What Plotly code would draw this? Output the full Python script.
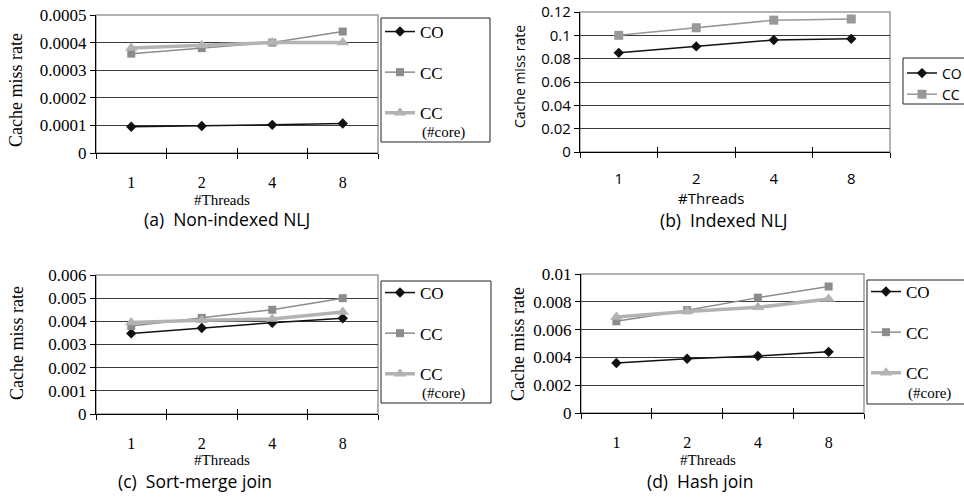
import plotly.graph_objects as go

threads = ["1", "2", "4", "8"]

a_co = [0.000095, 0.000098, 0.000102, 0.000107]
a_cc = [0.00036, 0.00038, 0.00040, 0.00044]
a_core = [0.00038, 0.00039, 0.00040, 0.00040]

b_co = [0.085, 0.0905, 0.096, 0.097]
b_cc = [0.100, 0.1065, 0.113, 0.114]

c_co = [0.00348, 0.00371, 0.00394, 0.00413]
c_cc = [0.0038, 0.00415, 0.0045, 0.0050]
c_core = [0.00395, 0.00405, 0.0041, 0.0044]

d_co = [0.0036, 0.0039, 0.0041, 0.0044]
d_cc = [0.0066, 0.0074, 0.0083, 0.0091]
d_core = [0.0069, 0.0073, 0.0076, 0.0082]

captions = ["(a)  Non-indexed NLJ", "(b)  Indexed NLJ", "(c)  Sort-merge join", "(d)  Hash join"]
core_note = "(#core)"

SERIF = "Liberation Serif"
SANS = "Open Sans"
W, H = 964, 502

CO_C = "#111111"
CC_C = "#8c8c8c"
CORE_C = "#b3b3b3"

fig = go.Figure()

def add_series(xa, ya, leg, co, cc, core, sans=False):
    fig.add_trace(go.Scatter(x=threads, y=co, name="CO", mode="lines+markers",
                             line=dict(color=CO_C, width=1.5),
                             marker=dict(symbol="diamond", size=8, color=CO_C),
                             xaxis=xa, yaxis=ya, legend=leg, legendgroup=leg + "co"))
    fig.add_trace(go.Scatter(x=threads, y=cc, name="CC", mode="lines+markers",
                             line=dict(color=CC_C if not sans else "#999999", width=1.5),
                             marker=dict(symbol="square", size=8 if not sans else 9,
                                         color=CC_C if not sans else "#999999"),
                             xaxis=xa, yaxis=ya, legend=leg, legendgroup=leg + "cc"))
    if core is not None:
        fig.add_trace(go.Scatter(x=threads, y=core, name="CC", mode="lines+markers",
                                 line=dict(color=CORE_C, width=3.5),
                                 marker=dict(symbol="triangle-up", size=11, color=CORE_C),
                                 xaxis=xa, yaxis=ya, legend=leg, legendgroup=leg + "core"))

add_series("x", "y", "legend", a_co, a_cc, a_core)
add_series("x2", "y2", "legend2", b_co, b_cc, None, sans=True)
add_series("x3", "y3", "legend3", c_co, c_cc, c_core)
add_series("x4", "y4", "legend4", d_co, d_cc, d_core)

# panel geometry (pixels): x0, x1, ytop, ybottom
panels = [
    (96, 378, 15, 153),
    (580, 890, 12, 152),
    (96, 378, 275, 414),
    (581, 864, 274, 413),
]
yranges = [(0, 0.0005, 0.0001), (0, 0.12, 0.02), (0, 0.006, 0.001), (0, 0.01, 0.002)]
fmts = [".4f", ".2f", ".3f", ".3f"]

layout = dict(width=W, height=H, margin=dict(l=0, r=0, t=0, b=0, pad=0, autoexpand=False),
              paper_bgcolor="white", plot_bgcolor="white", showlegend=True)

for i, (x0, x1, yt, yb) in enumerate(panels):
    sfx = "" if i == 0 else str(i + 1)
    osfx = str(i + 5)
    sans = (i == 1)
    fam = SANS if sans else SERIF
    tsize = 15 if sans else 17
    xsize = 15 if sans else 16
    lo, hi, dt = yranges[i]
    vals = [round(lo + k * dt, 6) for k in range(int(round((hi - lo) / dt)) + 1)]
    texts = ["0" if v == 0 else ("%g" % v if sans else format(v, fmts[i]).rstrip("0")) for v in vals]
    layout["xaxis" + sfx] = dict(
        domain=[x0 / W, x1 / W], anchor="y" + sfx, type="category",
        categoryorder="array", categoryarray=threads, range=[-0.5, 3.5],
        showline=True, linecolor="black", linewidth=1.2, showgrid=False,
        ticks="outside", tickson="boundaries", ticklen=5, tickcolor="black", tickwidth=1.2,
        ticklabelstandoff=15 if not sans else 13,
        tickfont=dict(family=fam, size=xsize, color="black"), zeroline=False)
    # overlay axis giving the inner half of the crossing category ticks
    layout["xaxis" + osfx] = dict(
        overlaying="x" + sfx, anchor="y" + sfx, type="category",
        categoryorder="array", categoryarray=threads, range=[-0.5, 3.5],
        showline=False, showgrid=False, showticklabels=False,
        ticks="inside", tickson="boundaries", ticklen=5, tickcolor="black", tickwidth=1.2,
        zeroline=False)
    layout["yaxis" + sfx] = dict(
        domain=[1 - yb / H, 1 - yt / H], anchor="x" + sfx, range=[lo, hi],
        tickvals=vals, ticktext=texts,
        showline=True, linecolor="black", linewidth=1.2,
        showgrid=True, gridcolor="#3a3a3a", gridwidth=1,
        ticks="outside", ticklen=5, tickcolor="black", tickwidth=1.2,
        tickfont=dict(family=fam, size=tsize, color="black"), zeroline=False)

# invisible helper traces that make the overlay tick axes render
for i in range(4):
    sfx = "" if i == 0 else str(i + 1)
    fig.add_trace(go.Scatter(x=threads, y=[None] * 4, mode="lines", showlegend=False,
                             hoverinfo="skip", xaxis="x" + str(i + 5), yaxis="y" + sfx))

# legends (frames drawn as shapes below)
leg_common = dict(bgcolor="rgba(0,0,0,0)", borderwidth=0,
                  xanchor="left", yanchor="top", valign="middle",
                  traceorder="grouped", itemwidth=30)
layout["legend"] = dict(leg_common, x=380 / W, y=1 - 14 / H, tracegroupgap=15.5,
                        font=dict(family=SERIF, size=17, color="black"))
layout["legend2"] = dict(leg_common, x=902 / W, y=1 - 57.5 / H, tracegroupgap=0,
                         font=dict(family=SANS, size=14, color="black"))
layout["legend3"] = dict(leg_common, x=380 / W, y=1 - 275 / H, tracegroupgap=15.5,
                         font=dict(family=SERIF, size=17, color="black"))
layout["legend4"] = dict(leg_common, x=866 / W, y=1 - 274 / H, tracegroupgap=15.5,
                         font=dict(family=SERIF, size=17, color="black"))

fig.update_layout(**layout)

shapes = []
# plot-area frame (gray, top/right visible)
for i in range(4):
    sfx = "" if i == 0 else str(i + 1)
    shapes.append(dict(type="rect", xref="x" + sfx + " domain", yref="y" + sfx + " domain",
                       x0=0, x1=1, y0=0, y1=1, line=dict(color="#9a9a9a", width=1.5),
                       layer="below"))
# legend frames (pixels: x0, x1, ytop, ybottom)
legend_boxes = [(381, 490, 18, 142), (903, 972, 58, 104), (381, 491, 281, 403), (867, 972, 280, 404)]
for (x0, x1, yt, yb) in legend_boxes:
    shapes.append(dict(type="rect", xref="paper", yref="paper",
                       x0=x0 / W, x1=x1 / W, y0=1 - yb / H, y1=1 - yt / H,
                       line=dict(color="#222222", width=1), layer="above"))
fig.update_layout(shapes=shapes)

# annotations: axis titles, captions, legend sub-labels
ann = []
ytitle_pos = [(16, 90, SERIF, 18), (520, 77, SANS, 14), (17, 343, SERIF, 18), (518, 344, SERIF, 18)]
xtitle_pos = [(222, 200, SERIF, 15), (711, 198, SANS, 15), (222, 460, SERIF, 15), (708, 460, SERIF, 15)]
cap_pos = [(227, 219), (724, 220), (195, 481), (700, 481)]
for i in range(4):
    x, y, fam, sz = ytitle_pos[i]
    ann.append(dict(text="Cache miss rate", x=x / W, y=1 - y / H, xref="paper", yref="paper",
                    textangle=-90, showarrow=False, xanchor="center", yanchor="middle",
                    font=dict(family=fam, size=sz, color="black")))
    x, y, fam, sz = xtitle_pos[i]
    ann.append(dict(text="#Threads", x=x / W, y=1 - y / H, xref="paper", yref="paper",
                    showarrow=False, xanchor="center", yanchor="middle",
                    font=dict(family=fam, size=sz, color="black")))
    x, y = cap_pos[i]
    ann.append(dict(text=captions[i], x=x / W, y=1 - y / H, xref="paper", yref="paper",
                    showarrow=False, xanchor="center", yanchor="middle",
                    font=dict(family=SANS, size=17.5, color="black")))
for (x, y) in [(420, 132), (420, 393), (906, 393)]:
    ann.append(dict(text=core_note, x=x / W, y=1 - y / H, xref="paper", yref="paper",
                    showarrow=False, xanchor="left", yanchor="middle",
                    font=dict(family=SERIF, size=15, color="black")))
fig.update_layout(annotations=ann)

fig.write_html("out.html", config={"displayModeBar": False},
               post_script="document.body.style.margin='0px';")
